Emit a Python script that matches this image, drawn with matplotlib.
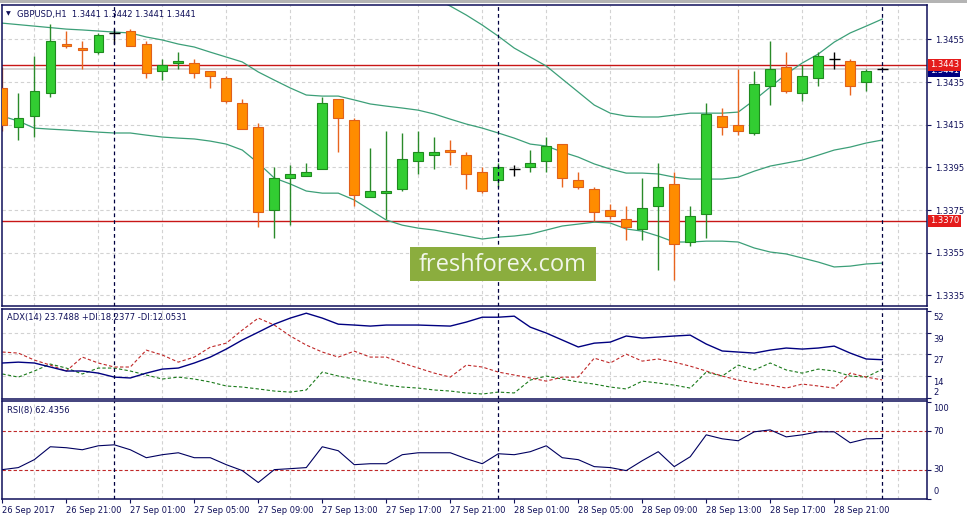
import numpy as np
import matplotlib.pyplot as plt
from matplotlib.patches import Rectangle

# GBPUSD H1 candles, 26 Sep 17:00 .. 29 Sep 00:00
opens = [1.3432, 1.3414, 1.3419, 1.3430, 1.3453, 1.3451, 1.3449, 1.3458, 1.3459, 1.3453,
         1.3440, 1.3444, 1.3444, 1.3440, 1.3437, 1.3425, 1.3414, 1.3375, 1.3390, 1.3391,
         1.3394, 1.3427, 1.3417, 1.3381, 1.3383, 1.3385, 1.3398, 1.3401, 1.3403, 1.3401,
         1.3393, 1.3389, 1.3394, 1.3395, 1.3398, 1.3406, 1.3389, 1.3385, 1.3375, 1.3371,
         1.3366, 1.3377, 1.3387, 1.3360, 1.3373, 1.3419, 1.3415, 1.3411, 1.3433, 1.3442,
         1.3430, 1.3437, 1.3446, 1.3445, 1.3435, 1.3441]
highs = [1.3442, 1.3430, 1.3447, 1.3462, 1.3459, 1.3454, 1.3458, 1.3460, 1.3460, 1.3454,
         1.3446, 1.3449, 1.3446, 1.3440, 1.3438, 1.3427, 1.3416, 1.3395, 1.3396, 1.3397,
         1.3428, 1.3427, 1.3418, 1.3404, 1.3412, 1.3411, 1.3412, 1.3409, 1.3408, 1.3402,
         1.3395, 1.3397, 1.3396, 1.3403, 1.3409, 1.3406, 1.3393, 1.3386, 1.3378, 1.3377,
         1.3390, 1.3397, 1.3393, 1.3377, 1.3425, 1.3423, 1.3441, 1.3440, 1.3454, 1.3449,
         1.3443, 1.3449, 1.3449, 1.3446, 1.3441, 1.3442]
lows = [1.3412, 1.3408, 1.3409, 1.3428, 1.3451, 1.3441, 1.3448, 1.3453, 1.3452, 1.3437,
        1.3436, 1.3441, 1.3437, 1.3432, 1.3425, 1.3413, 1.3367, 1.3362, 1.3368, 1.3391,
        1.3394, 1.3402, 1.3377, 1.3381, 1.3371, 1.3384, 1.3392, 1.3394, 1.3396, 1.3385,
        1.3383, 1.3386, 1.3391, 1.3393, 1.3393, 1.3386, 1.3385, 1.3370, 1.3371, 1.3361,
        1.3361, 1.3347, 1.3342, 1.3358, 1.3362, 1.3410, 1.3410, 1.3410, 1.3424, 1.3430,
        1.3426, 1.3433, 1.3441, 1.3429, 1.3431, 1.3441]
closes = [1.3415, 1.3418, 1.3431, 1.3454, 1.3452, 1.3450, 1.3457, 1.3458, 1.3452, 1.3439,
          1.3443, 1.3445, 1.3439, 1.3438, 1.3426, 1.3413, 1.3374, 1.3390, 1.3392, 1.3393,
          1.3425, 1.3418, 1.3382, 1.3384, 1.3384, 1.3399, 1.3402, 1.3402, 1.3402, 1.3392,
          1.3384, 1.3395, 1.3394, 1.3397, 1.3405, 1.3390, 1.3386, 1.3374, 1.3372, 1.3367,
          1.3376, 1.3386, 1.3359, 1.3372, 1.3420, 1.3414, 1.3412, 1.3434, 1.3441, 1.3431,
          1.3438, 1.3447, 1.3446, 1.3433, 1.3440, 1.3441]

# Bollinger bands (upper band is off the chart at first)
bb_mid = [1.34626, 1.34619, 1.34612, 1.34605, 1.34598, 1.34594, 1.34589, 1.34584, 1.34580, 1.34561,
          1.34547, 1.34528, 1.34514, 1.34490, 1.34467, 1.34444, 1.34397, 1.34359, 1.34322, 1.34289,
          1.34284, 1.34284, 1.34266, 1.34247, 1.34237, 1.34228, 1.34218, 1.34200, 1.34176, 1.34153,
          1.34134, 1.34111, 1.34087, 1.34059, 1.34050, 1.34022, 1.33998, 1.33966, 1.33942, 1.33923,
          1.33923, 1.33919, 1.33904, 1.33895, 1.33895, 1.33895, 1.33904, 1.33932, 1.33956, 1.33970,
          1.33984, 1.34007, 1.34031, 1.34045, 1.34064, 1.34078]
bb_low = [1.34190, 1.34167, 1.34134, 1.34129, 1.34125, 1.34120, 1.34115, 1.34111, 1.34111, 1.34101,
          1.34092, 1.34087, 1.34083, 1.34073, 1.34059, 1.34031, 1.33970, 1.33900, 1.33872, 1.33839,
          1.33829, 1.33829, 1.33797, 1.33750, 1.33703, 1.33679, 1.33665, 1.33656, 1.33642, 1.33628,
          1.33614, 1.33623, 1.33628, 1.33637, 1.33656, 1.33675, 1.33684, 1.33693, 1.33689, 1.33661,
          1.33651, 1.33628, 1.33600, 1.33600, 1.33604, 1.33604, 1.33600, 1.33572, 1.33553, 1.33544,
          1.33525, 1.33506, 1.33483, 1.33487, 1.33497, 1.33501]
bb_up = [np.nan] * 27 + [
    1.34744, 1.34706, 1.34664, 1.34617, 1.34565, 1.34509, 1.34467, 1.34425, 1.34364, 1.34303,
    1.34242, 1.34204, 1.34190, 1.34186, 1.34186, 1.34195, 1.34204, 1.34204, 1.34204, 1.34209,
    1.34265, 1.34326, 1.34387, 1.34439, 1.34481, 1.34537, 1.34580, 1.34612, 1.34645]

adx = [21.8, 22.3, 21.8, 19.5, 17.2, 17.2, 16.0, 13.7, 13.2, 16.0,
       18.3, 18.9, 21.8, 25.2, 29.8, 35.0, 39.5, 44.1, 47.6, 50.4,
       47.6, 44.1, 43.6, 43.0, 43.6, 43.6, 43.6, 43.3, 43.0, 45.3,
       48.1, 48.1, 48.7, 42.4, 39.0, 35.0, 31.0, 33.2, 33.8, 37.3,
       36.1, 36.7, 37.3, 37.8, 32.7, 28.7, 28.1, 27.5, 29.2, 30.4,
       29.8, 30.4, 31.5, 27.5, 24.1, 23.7]
plus_di = [15.5, 13.7, 17.2, 21.2, 18.9, 15.5, 18.9, 18.9, 17.2, 14.9,
           12.6, 13.7, 12.6, 10.9, 8.6, 8.0, 6.9, 5.7, 5.1, 6.3,
           16.6, 14.3, 12.6, 10.9, 9.1, 8.0, 7.4, 6.3, 5.7, 4.6,
           4.0, 5.1, 4.6, 12.0, 14.3, 12.6, 10.9, 9.7, 8.0, 6.9,
           11.4, 10.3, 9.1, 7.4, 16.6, 14.3, 20.6, 17.8, 21.8, 17.8,
           16.0, 18.3, 17.2, 14.3, 13.7, 18.2]
minus_di = [28.1, 27.5, 23.5, 20.6, 17.2, 25.2, 21.8, 19.5, 19.5, 29.2,
            26.4, 22.3, 25.2, 30.9, 33.2, 40.7, 47.6, 43.6, 37.3, 32.1,
            28.1, 25.2, 28.6, 25.2, 25.2, 21.8, 18.9, 16.0, 13.7, 20.6,
            19.5, 16.6, 14.9, 13.2, 11.4, 13.7, 13.7, 24.6, 21.8, 26.9,
            22.9, 24.1, 22.3, 20.0, 17.2, 14.3, 12.0, 10.3, 9.1, 7.4,
            9.7, 8.6, 7.4, 16.0, 13.7, 12.1]
rsi = [30.3, 32.4, 40.6, 53.9, 52.9, 50.8, 54.9, 55.9, 50.8, 42.6,
       45.7, 47.7, 42.6, 42.6, 35.4, 29.3, 17.0, 30.3, 31.3, 32.4,
       53.9, 49.8, 35.4, 36.4, 36.4, 45.7, 47.7, 47.7, 47.7, 41.6,
       36.4, 46.7, 45.7, 48.8, 54.9, 42.6, 40.6, 33.4, 32.4, 29.3,
       39.5, 48.8, 33.4, 43.6, 66.2, 62.1, 60.1, 69.3, 71.3, 64.1,
       66.2, 69.3, 69.3, 58.0, 62.1, 62.4]

time_labels = ["26 Sep 2017", "26 Sep 21:00", "27 Sep 01:00", "27 Sep 05:00", "27 Sep 09:00",
               "27 Sep 13:00", "27 Sep 17:00", "27 Sep 21:00", "28 Sep 01:00", "28 Sep 05:00",
               "28 Sep 09:00", "28 Sep 13:00", "28 Sep 17:00", "28 Sep 21:00"]
day_starts = [7, 31, 55]
price_ticks = [1.3335, 1.3355, 1.3375, 1.3395, 1.3415, 1.3435, 1.3455]
red_levels = [1.3443, 1.3370]
bid = 1.3441
adx_ticks = [51.6, 39.2, 26.8, 14.2, 1.7]
adx_tick_labels = ["52", "39", "27", "14", "2"]
rsi_levels = [70, 30]
rsi_ticks = [100, 70, 30, 0]

title_main = "GBPUSD,H1  1.3441 1.3442 1.3441 1.3441"
title_adx = "ADX(14) 23.7488 +DI:18.2377 -DI:12.0531"
title_rsi = "RSI(8) 62.4356"

navy = '#10105a'
grid_c = '#d2d2d2'
fs = 6
plt.rcParams['font.family'] = 'DejaVu Sans'

W, H = 967, 517
fig = plt.figure(figsize=(W / 100, H / 100), dpi=100)


def px_box(top, bottom, left=2, right=927):
    return [left / W, 1 - bottom / H, (right - left) / W, (bottom - top) / H]


ax = fig.add_axes(px_box(5, 306))
ax_adx = fig.add_axes(px_box(308.5, 399), sharex=ax)
ax_rsi = fig.add_axes(px_box(401, 499), sharex=ax)

x = np.arange(len(opens))
o, h, l, c = (np.array(v) for v in (opens, highs, lows, closes))
up = c > o + 1e-9
dn = c < o - 1e-9
eq = ~(up | dn)

for a in (ax, ax_adx, ax_rsi):
    for s in a.spines.values():
        s.set_color(navy)
        s.set_linewidth(1.1)
    a.set_xticks(np.arange(0, 60, 2), minor=True)
    a.grid(True, which='minor', axis='x', color=grid_c, lw=0.8, ls=(0, (3, 2.5)))
    a.set_axisbelow(True)
    for d in day_starts:
        a.axvline(d, color='#000040', lw=0.9, ls=(0, (3, 2.5)), zorder=4)
    a.tick_params(which='minor', length=0)
    a.tick_params(which='both', bottom=False, labelbottom=False, left=False, labelleft=False)

ax.set_xlim(-0.02, 57.8)

# --- main price panel ---
ax.set_ylim(1.33300, 1.34711)
for p in price_ticks:
    ax.axhline(p, color=grid_c, lw=0.8, ls=(0, (3, 2.5)), zorder=0.5)
ax.axhline(bid, color='#d4d0d0', lw=1.3, zorder=1)
for p in red_levels:
    ax.axhline(p, color='#c81616', lw=1.0, zorder=1.2)

ax.plot(x, bb_up, color='#3c9f78', lw=0.9, zorder=2)
ax.plot(x, bb_mid, color='#3c9f78', lw=0.9, zorder=2)
ax.plot(x, bb_low, color='#3c9f78', lw=0.9, zorder=2)

bw = 0.6
ax.vlines(x[up], l[up], h[up], color='#2a8a2a', lw=1.0, zorder=2.5)
ax.vlines(x[dn], l[dn], h[dn], color='#e8641e', lw=1.0, zorder=2.5)
ax.vlines(x[eq], l[eq], h[eq], color='black', lw=1.0, zorder=2.5)
ax.bar(x[up], (c - o)[up], bottom=o[up], width=bw, color='#32cd32',
       edgecolor='#1f8a1f', lw=0.8, zorder=3)
ax.bar(x[dn], (c - o)[dn], bottom=o[dn], width=bw, color='#ff8c00',
       edgecolor='#e0601a', lw=0.8, zorder=3)
ax.hlines(o[eq], x[eq] - bw / 2 - 0.05, x[eq] + bw / 2 + 0.05, color='black', lw=1.0, zorder=3)

ax.yaxis.tick_right()
ax.set_yticks(price_ticks)
ax.set_yticklabels([f"{p:.4f}" for p in price_ticks])
ax.tick_params(axis='y', right=True, labelright=True, length=3, width=0.8,
               colors=navy, labelsize=fs, pad=3)

ax.text(0.0072, 0.970, '\u25bc', transform=ax.transAxes, fontsize=4.5, color=navy,
        va='center', ha='center')
ax.text(0.0165, 0.970, title_main, transform=ax.transAxes, fontsize=fs, color=navy,
        va='center', ha='left')

# price boxes at the right edge
yt = ax.get_yaxis_transform()
ax.text(1.003, bid - 0.00007, f"{bid:.4f}", transform=yt, fontsize=fs, color='white',
        va='center', ha='left', clip_on=False, zorder=5,
        bbox=dict(boxstyle='square,pad=0.2', fc='#000080', ec='none'))
for p in red_levels:
    ax.text(1.003, p, f"{p:.4f}", transform=yt, fontsize=fs, color='white',
            va='center', ha='left', clip_on=False, zorder=6,
            bbox=dict(boxstyle='square,pad=0.2', fc='#e41b1b', ec='none'))

# --- ADX panel ---
ax_adx.set_ylim(1.13, 53.1)
for v in adx_ticks[1:4]:
    ax_adx.axhline(v, color=grid_c, lw=0.8, ls=(0, (3, 2.5)), zorder=0.5)
ax_adx.plot(x, adx, color='#000080', lw=1.0, zorder=3)
ax_adx.plot(x, plus_di, color='#1a7a1a', lw=0.8, ls=(0, (3, 2)), zorder=2.5)
ax_adx.plot(x, minus_di, color='#c02828', lw=0.8, ls=(0, (3, 2)), zorder=2.5)
ax_adx.yaxis.tick_right()
ax_adx.set_yticks(adx_ticks)
ax_adx.tick_params(axis='y', right=True, labelright=False, length=3, width=0.8, colors=navy)
yt2 = ax_adx.get_yaxis_transform()
for v, lab in zip(adx_ticks, adx_tick_labels):
    if lab == "2":
        ax_adx.annotate(lab, (1.0, v), xycoords=yt2, xytext=(4.5, 1), textcoords='offset points',
                        fontsize=fs, color=navy, va='bottom', ha='left', annotation_clip=False)
    else:
        ax_adx.annotate(lab, (1.0, v), xycoords=yt2, xytext=(4.5, -1.5), textcoords='offset points',
                        fontsize=fs, color=navy, va='top', ha='left', annotation_clip=False)
ax_adx.text(0.0054, 0.905, title_adx, transform=ax_adx.transAxes, fontsize=fs, color=navy,
            va='center', ha='left')

# --- RSI panel ---
ax_rsi.set_ylim(0.55, 101.1)
for v in rsi_levels:
    ax_rsi.axhline(v, color='#c02828', lw=0.8, ls=(0, (3, 2)), zorder=1)
ax_rsi.plot(x, rsi, color='#000060', lw=0.8, zorder=3)
ax_rsi.yaxis.tick_right()
ax_rsi.set_yticks(rsi_ticks)
ax_rsi.tick_params(axis='y', right=True, labelright=False, length=3, width=0.8, colors=navy)
yt3 = ax_rsi.get_yaxis_transform()
for v in rsi_ticks:
    if v == 100:
        va, dy = 'top', -1.5
    elif v == 0:
        va, dy = 'bottom', 2
    else:
        va, dy = 'center', 0
    ax_rsi.annotate(str(v), (1.0, v), xycoords=yt3, xytext=(4.5, dy), textcoords='offset points',
                    fontsize=fs, color=navy, va=va, ha='left', annotation_clip=False)
ax_rsi.text(0.0054, 0.905, title_rsi, transform=ax_rsi.transAxes, fontsize=fs, color=navy,
            va='center', ha='left')

ax_rsi.set_xticks(np.arange(0, len(time_labels) * 4, 4))
ax_rsi.set_xticklabels(time_labels)
ax_rsi.tick_params(axis='x', which='major', bottom=True, labelbottom=True, length=3,
                   width=0.8, colors=navy, labelsize=fs, pad=2)
for t in ax_rsi.get_xticklabels():
    t.set_ha('left')

# window frame line on top
fig.add_artist(Rectangle((0, 1 - 2.5 / H), 1, 2.5 / H, transform=fig.transFigure,
                         fc='#b4b4b4', ec='none'))

# watermark
fig.add_artist(Rectangle((410 / W, 1 - 281 / H), 186 / W, 34 / H, transform=fig.transFigure,
                         fc='#8bad3e', ec='none', zorder=10))
fig.text(503 / W, 1 - 265 / H, 'freshforex.com', fontsize=17, family='Open Sans',
         color='#f2f6ea', ha='center', va='center', zorder=11)

fig.savefig('out.png', dpi=100, facecolor='white')
